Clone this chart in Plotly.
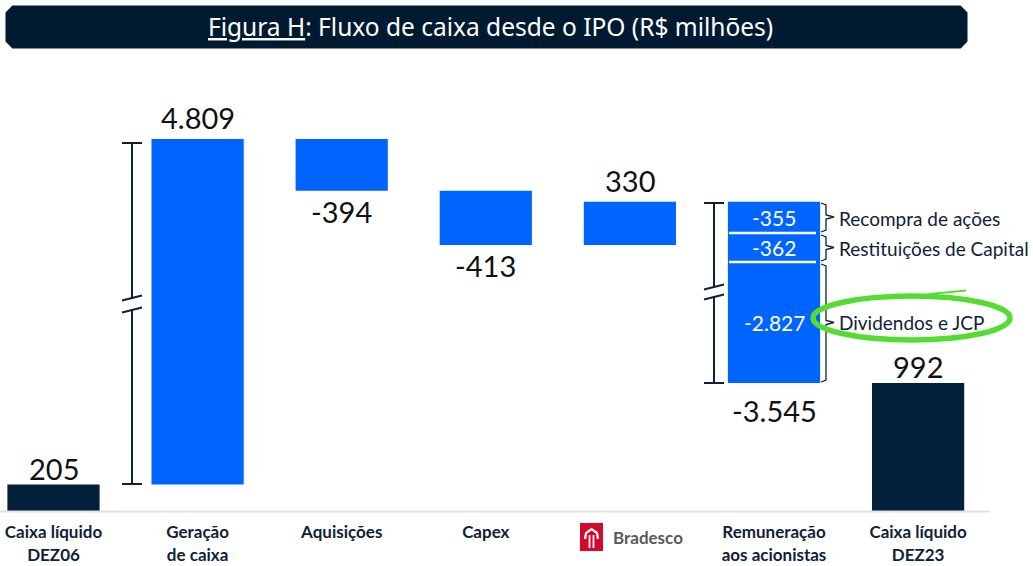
import plotly.graph_objects as go

CATEGORIES = [
    "Caixa líquido DEZ06",
    "Geração de caixa",
    "Aquisições",
    "Capex",
    "Bradesco",
    "Remuneração aos acionistas",
    "Caixa líquido DEZ23",
]
TICK_TEXT = [
    "Caixa líquido<br>DEZ06",
    "Geração<br>de caixa",
    "Aquisições",
    "Capex",
    "",
    "Remuneração<br>aos acionistas",
    "Caixa líquido<br>DEZ23",
]
MEASURES = ["absolute", "relative", "relative", "relative", "relative", "relative", "total"]
VALUES = [205, 4809, -394, -413, 330, -3545, 992]
VALUE_TEXT = ["205", "4.809", "-394", "-413", "330", "-3.545", "992"]

PAYOUT_LABELS = ["Recompra de ações", "Restituições de Capital", "Dividendos e JCP"]
PAYOUT_VALUES = [-355, -362, -2827]
PAYOUT_TEXT = ["-355", "-362", "-2.827"]

BLUE = "#0064ff"
NAVY = "#03203a"
INK = "#0f2238"
FONT = "Lato"
LABEL_NUDGE = [-3, 2, -1, -1, 2, -8, -3]   # px, fine placement of value labels

# page geometry (px) and the broken value axis
W, H = 1033, 566
M_T, M_B = 60, 55
PLOT_H = H - M_T - M_B
PX_PER_UNIT = 0.1313
BREAK_PX = 211                      # height of the lower panel
LOW_MAX = 1635                      # top of the lower panel
HIGH_MIN = 3788                     # bottom of the upper panel
HIGH_MAX = HIGH_MIN + (PLOT_H - BREAK_PX) / PX_PER_UNIT
BREAK_FRAC = BREAK_PX / PLOT_H
X_MIN = -53.5 / 144.1
X_MAX = X_MIN + W / 144.1


def px(x, y):
    """Page pixel -> paper coordinates."""
    return x / W, (H - M_B - y) / PLOT_H


def path(points, close=False):
    parts = []
    for i, (x, y) in enumerate(points):
        u, v = px(x, y)
        parts.append(("M" if i == 0 else "L") + f"{u:.5f},{v:.5f}")
    return " ".join(parts) + (" Z" if close else "")


# waterfall bases from running totals
bases, heights, colors = [], [], []
level = 0
for m, v in zip(MEASURES, VALUES):
    if m == "absolute":
        bases.append(0); heights.append(v); level = v; colors.append(NAVY)
    elif m == "total":
        bases.append(0); heights.append(level); colors.append(NAVY)
    else:
        bases.append(level); heights.append(v); level += v; colors.append(BLUE)

fig = go.Figure()
for axis in ("y", "y2"):
    fig.add_trace(
        go.Bar(
            x=CATEGORIES,
            y=heights,
            base=bases,
            yaxis=axis,
            width=0.64,
            marker=dict(color=colors, line=dict(width=0)),
            showlegend=False,
            hoverinfo="skip",
        )
    )

annotations = []
shapes = []

# value labels
for cat, b, h, txt, nudge in zip(CATEGORIES, bases, heights, VALUE_TEXT, LABEL_NUDGE):
    top, bottom = max(b, b + h), min(b, b + h)
    above = h > 0
    val = top if above else bottom
    yref = "y2" if val > LOW_MAX else "y"
    annotations.append(dict(
        x=cat, y=val, xref="x", yref=yref, text=txt, showarrow=False,
        yanchor="bottom" if above else "top", yshift=nudge,
        font=dict(family=FONT, size=29, color="#111111"),
    ))

# split of the shareholder payout bar
seg_px = [(201, 233), (233, 262), (262, 383)]
label_y = [218, 248, 322]
for (y0, y1), lab, txt, ly in zip(seg_px, PAYOUT_LABELS, PAYOUT_TEXT, label_y):
    annotations.append(dict(
        x=CATEGORIES[5], y=px(0, (y0 + y1) / 2)[1], xref="x", yref="paper",
        text=txt, showarrow=False, yanchor="middle",
        font=dict(family=FONT, size=21, color="white"),
    ))
    annotations.append(dict(
        x=px(837, 0)[0], y=px(0, ly)[1], xref="paper", yref="paper",
        text=lab, showarrow=False, xanchor="left", yanchor="middle",
        font=dict(family=FONT, size=19, color=INK),
    ))
    # curly brace
    ym = (y0 + y1) / 2
    shapes.append(dict(
        type="path", xref="paper", yref="paper",
        path=path([(821, y0 + 2), (826, y0 + 4), (826, ym - 2), (834, ym),
                   (826, ym + 2), (826, y1 - 3), (821, y1 - 1)]),
        line=dict(color=INK, width=1.3),
    ))
for y in (233, 262):
    shapes.append(dict(type="path", xref="paper", yref="paper",
                       path=path([(729, y), (816, y)]),
                       line=dict(color="white", width=2.5)))


# broken-scale brackets
def bracket(x, top, bottom, b1, b2):
    lw = dict(color=INK, width=2)
    shapes.append(dict(type="path", xref="paper", yref="paper",
                       path=path([(x, top), (x, b1 + 1)]), line=lw))
    shapes.append(dict(type="path", xref="paper", yref="paper",
                       path=path([(x, b2 - 1), (x, bottom)]), line=lw))
    for y in (top, bottom):
        shapes.append(dict(type="path", xref="paper", yref="paper",
                           path=path([(x - 10, y), (x + 10, y)]), line=lw))
    for y in (b1, b2):
        shapes.append(dict(type="path", xref="paper", yref="paper",
                           path=path([(x - 10, y + 2.5), (x + 10, y - 2.5)]), line=lw))


bracket(132, 143, 484, 298, 310)
bracket(714, 203, 383, 287, 297)

# highlight around "Dividendos e JCP"
x0, y0 = px(813, 340)
x1, y1 = px(1010, 296)
shapes.append(dict(type="circle", xref="paper", yref="paper", x0=x0, y0=y0, x1=x1, y1=y1,
                   line=dict(color="#55dc32", width=5.5)))
shapes.append(dict(type="path", xref="paper", yref="paper",
                   path=path([(905, 297.5), (935, 293.5), (966, 290.5)]),
                   line=dict(color="#55dc32", width=2)))

# baseline
shapes.append(dict(type="path", xref="paper", yref="paper",
                   path=path([(0, 511.5), (990, 511.5)]),
                   line=dict(color="#e2e2e2", width=2)))

# title banner
r = 6
bx0, bx1, by0, by1 = 7, 966, 7, 47
pts = [(bx0 + r, by0), (bx1 - r, by0), (bx1, by0 + r), (bx1, by1 - r), (bx1 - r, by1),
       (bx0 + r, by1), (bx0, by1 - r), (bx0, by0 + r)]
shapes.append(dict(type="path", xref="paper", yref="paper", path=path(pts, close=True),
                   fillcolor="#001b31", line=dict(color="#001b31", width=3)))
tx, ty = px(490, 27)
annotations.append(dict(
    x=tx, y=ty, xref="paper", yref="paper", showarrow=False, yanchor="middle",
    text="<u>Figura H</u>: Fluxo de caixa desde o IPO (R$ milhões)",
    font=dict(family="Noto Sans", size=24.5, color="white"),
))

# Bradesco logo in place of the tick label
lx0, ly0 = px(580, 551)
lx1, ly1 = px(603, 523)
shapes.append(dict(type="rect", xref="paper", yref="paper", x0=lx0, y0=ly0, x1=lx1, y1=ly1,
                   fillcolor="#d4082a", line=dict(width=0)))
shapes.append(dict(type="path", xref="paper", yref="paper",
                   path=path([(585, 539), (586, 533), (591.5, 529), (597, 533), (598, 539)]),
                   line=dict(color="white", width=2.2)))
for x in (589.5, 593.5):
    shapes.append(dict(type="path", xref="paper", yref="paper",
                       path=path([(x, 535), (x, 548)]), line=dict(color="white", width=1.8)))
bx, byy = px(611, 537)
annotations.append(dict(
    x=bx, y=byy, xref="paper", yref="paper", xanchor="left", yanchor="middle",
    showarrow=False, text="<b>Bradesco</b>",
    font=dict(family=FONT, size=17, color="#5a5a5a"),
))

fig.update_layout(
    width=W,
    height=H,
    margin=dict(l=0, r=0, t=M_T, b=M_B),
    paper_bgcolor="white",
    plot_bgcolor="white",
    xaxis=dict(
        type="category",
        range=[X_MIN, X_MAX],
        tickvals=CATEGORIES,
        ticktext=[f"<b>{t}</b>" for t in TICK_TEXT],
        tickfont=dict(family=FONT, size=17, color=INK),
        ticks="outside",
        ticklen=6,
        tickcolor="rgba(0,0,0,0)",
        showgrid=False,
        zeroline=False,
        showline=False,
        anchor="y",
        automargin=False,
    ),
    yaxis=dict(domain=[0, BREAK_FRAC], range=[0, LOW_MAX], visible=False, fixedrange=True),
    yaxis2=dict(domain=[BREAK_FRAC, 1], range=[HIGH_MIN, HIGH_MAX], visible=False,
                anchor="x", fixedrange=True),
    annotations=annotations,
    shapes=shapes,
)

fig.write_html(
    "out.html",
    config={"displayModeBar": False},
    post_script="document.body.style.margin='0';document.body.style.overflow='hidden';",
)
